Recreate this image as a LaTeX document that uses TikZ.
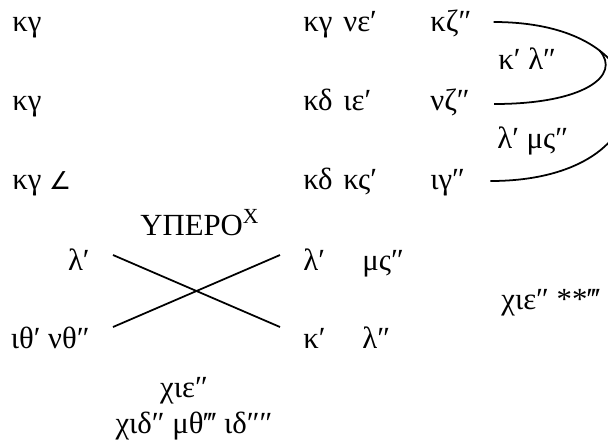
\documentclass[tikz,border=0pt]{standalone}
\usepackage{fontspec}
\setmainfont{Liberation Serif}
\newfontfamily\symfont{DejaVu Sans}

\begin{document}
\begin{tikzpicture}[x=0.02cm, y=-0.02cm, font=\fontsize{17.5}{20}\selectfont,
    lbl/.style={inner sep=0pt, anchor=base west},
    rlbl/.style={inner sep=0pt, anchor=base east},
    clbl/.style={inner sep=0pt, anchor=base},
    link/.style={line width=1pt}]
    \useasboundingbox (0,0) rectangle (608,441);
    \clip (0,0) rectangle (608,441);

    % Left column
    \node[lbl] (ka) at (12,31) {κγ};
    \node[lbl] (kb) at (12,110) {κγ};
    \node[lbl] (kc) at (12,189) {κγ {\symfont\fontsize{14}{16}\selectfont ∠}};

    % Right block, three rows
    \node[lbl] (ra1) at (303,31) {κγ};
    \node[lbl] (ra2) at (343,31) {νε′};
    \node[lbl] (kz) at (430,31) {κζ″};
    \node[lbl] (rb1) at (303,110) {κδ};
    \node[lbl] (rb2) at (343,110) {ιε′};
    \node[lbl] (nz) at (430,110) {νζ″};
    \node[lbl] (rc1) at (303,189) {κδ};
    \node[lbl] (rc2) at (343,189) {κς′};
    \node[lbl] (ig) at (430,189) {ιγ″};

    % Bracket labels
    \node[lbl] (kl) at (498,69) {κ′ λ″};
    \node[lbl] (lm) at (497,148) {λ′ μς″};

    % Brackets
    \coordinate (kzE) at ([shift={(22,-9)}]kz.base east);
    \coordinate (nzE) at ([shift={(24,-6)}]nz.base east);
    \coordinate (igE) at ([shift={(25,-8)}]ig.base east);
    \draw[link] (kzE) .. controls +(180,0) and +(180,0) .. coordinate[pos=0.27] (meet) (igE);
    \draw[link] (nzE) .. controls +(90,0) and +(22,25) .. (meet);

    % Cross
    \node[lbl] (hyp) at (140,235) {ΥΠΕΡΟ\textsuperscript{X}};
    \node[rlbl] (lamL) at (90,270) {λ′};
    \node[rlbl] (itL) at (90,348) {ιθ′ νθ″};
    \node[lbl] (lamR) at (303,270) {λ′};
    \node[lbl] (ms) at (362,270) {μς″};
    \node[lbl] (kapR) at (303,348) {κ′};
    \node[lbl] (ll) at (362,348) {λ″};
    \draw[link] ([shift={(23,-15)}]lamL.base east) -- ([shift={(-23,-21)}]kapR.base west);
    \draw[link] ([shift={(23,-21)}]itL.base east) -- ([shift={(-23,-15)}]lamR.base west);

    % Totals
    \node[lbl] (tot) at (501,309) {χιε″ **‴};
    \node[clbl] (sum) at (184,397) {χιε″};
    \node[clbl] (sub) at (194,433) {χιδ″ μθ‴ ιδ″″};
\end{tikzpicture}
\end{document}
